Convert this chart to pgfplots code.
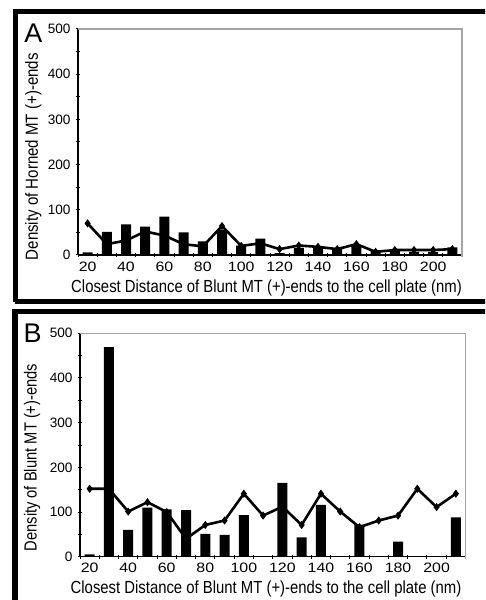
\documentclass[border=0pt]{standalone}
\usepackage{fontspec}
\setmainfont{Liberation Sans}
\usepackage{graphicx}
\usepackage{pgfplots}
\pgfplotsset{compat=1.18}
\definecolor{framegray}{RGB}{165,165,165}

% horned (A) and blunt (B) densities, bars and line
\pgfplotstableread{
x   bar  line
20  6    70
30  51   24
40  68   32
50  63   52
60  85   43
70  50   24
80  30   19
90  55   64
100 21   20
110 36   26
120 4    13
130 16   21
140 15   18
150 13   13
160 20   24
170 11   7
180 9    11
190 7    11
200 7    11
210 17   13
}\dataA
\pgfplotstableread{
x   line
20  152
30  152
40  101
50  122
60  100
70  40
80  71
90  81
100 141
110 92
120 112
130 71
140 141
150 101
160 66
170 81
180 92
190 152
200 111
210 141
}\lineB
\pgfplotstableread{
x   bar
20  5
30  469
40  60
50  110
60  106
70  104
80  51
90  49
100 93
120 165
130 43
140 116
160 72
180 34
210 88
}\barB

\pgfplotsset{
  panel/.style={
    scale only axis, anchor=south west,
    xmin=15, xmax=215, ymin=0, ymax=500,
    axis x line*=bottom, axis y line*=left,
    axis line style={black, line width=1.3pt, -},
    xtick={20,40,...,200}, major x tick style={draw=none},
    minor xtick={15,25,...,215},
    ytick={0,100,...,500}, minor ytick={50,150,...,450},
    tick align=center, major tick length=4pt, minor tick length=4pt,
    every tick/.style={black, line width=1pt},
    /pgf/number format/assume math mode=true,
    tick label style={font=\fontsize{13.6}{16}\selectfont},
    xticklabel={\scalebox{1.17}[1]{\pgfmathprintnumber{\tick}}},
    xticklabel style={yshift=-1pt},
    yticklabel style={xshift=-2pt},
    label style={font=\fontsize{17.5}{20}\selectfont},
    clip=false,
  },
  barplot/.style={ybar, bar width=10pt, fill=black, draw=none},
  lineplot/.style={black, line width=2.6pt, mark=diamond*, mark size=3.3pt,
                   mark options={fill=black, line width=1pt}},
}

\begin{document}
\begin{tikzpicture}
\useasboundingbox (0pt,0pt) rectangle (485pt,600pt);
\clip (0pt,0pt) rectangle (485pt,600pt);

% panel frames
\draw[line width=5.5pt] (15pt,-20pt) -- (15pt,288.5pt) -- (520pt,288.5pt);
\draw[line width=5pt] (15pt,298pt) -- (15pt,588.5pt) -- (520pt,588.5pt)
  (15pt,298pt) -- (520pt,298pt);

\begin{axis}[panel, at={(78pt,345pt)}, width=384pt, height=226pt,
  xlabel={\scalebox{0.85}[1]{Closest Distance of Blunt MT (+)-ends to the cell plate (nm)}},
  xlabel style={at={(axis description cs:0.491,-0.146)}, anchor=center},
  ylabel={\scalebox{0.86}[1]{Density of Horned MT (+)-ends}},
  ylabel style={at={(axis description cs:-0.116,0.435)}, anchor=center, rotate=0},
]
\addplot[barplot] table[x=x, y=bar] {\dataA};
\addplot[lineplot] table[x=x, y=line] {\dataA};
\draw[framegray, line width=1.3pt] (rel axis cs:0,1) -- (rel axis cs:1,1) -- (rel axis cs:1,-0.01);
\node[font=\fontsize{27}{30}\selectfont] at (axis description cs:-0.116,0.982) {A};
\end{axis}

\begin{axis}[panel, at={(80pt,43.3pt)}, width=385.5pt, height=223.4pt,
  xlabel={\scalebox{0.85}[1]{Closest Distance of Blunt MT (+)-ends to the cell plate (nm)}},
  xlabel style={at={(axis description cs:0.4825,-0.145)}, anchor=center},
  ylabel={\scalebox{0.84}[1]{Density of Blunt MT (+)-ends}},
  ylabel style={at={(axis description cs:-0.1245,0.444)}, anchor=center, rotate=0},
]
\addplot[barplot] table[x=x, y=bar] {\barB};
\addplot[lineplot] table[x=x, y=line] {\lineB};
\draw[framegray, line width=1.3pt] (rel axis cs:0,1) -- (rel axis cs:1,1) -- (rel axis cs:1,-0.01);
\node[font=\fontsize{27}{30}\selectfont] at (axis description cs:-0.123,1.0) {B};
\end{axis}
\end{tikzpicture}
\end{document}
